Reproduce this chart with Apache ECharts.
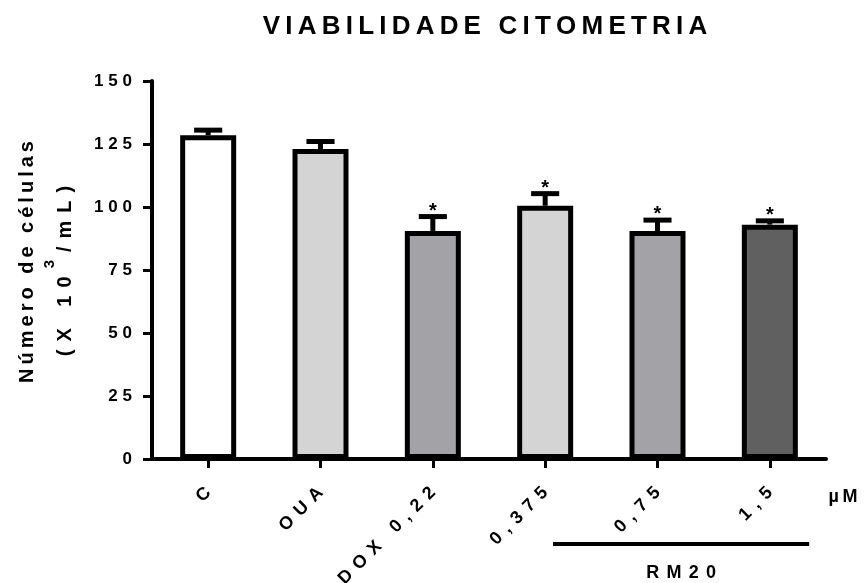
<!DOCTYPE html>
<html>
<head>
<meta charset="utf-8">
<script src="https://cdn.jsdelivr.net/npm/echarts@6/dist/echarts.min.js"></script>
<style>
html,body{margin:0;padding:0;background:#fff;}
#chart{width:867px;height:583px;}
</style>
</head>
<body>
<div id="chart"></div>
<script>
// ---- data ----
const categories = ['C', 'OUA', 'DOX 0,22', '0,375', '0,75', '1,5'];
const means = [128.5, 123, 90.5, 100.5, 90.5, 93];
const errors = [2, 3, 5.7, 4.8, 4.3, 1.5];
const significant = [false, false, true, true, true, true];
const barColors = ['#ffffff', '#d4d4d4', '#a3a2a7', '#d4d4d4', '#a3a2a7', '#606060'];
const titleText = 'VIABILIDADE CITOMETRIA';
const yNameLine1 = 'Número de células';
const yNameLine2a = '(X 10';
const yNameSup = '3';
const yNameLine2b = '/mL)';
const unitText = 'µM';
const groupText = 'RM20';
const groupStart = '0,375', groupEnd = '1,5';

const FONT = '"Liberation Sans", Arial, Helvetica, sans-serif';
const EN = '\u2002', THIN = '\u2009', HAIR = '\u200A';
function spaced(s, sp) { return Array.from(s).join(sp); }

const mctx = document.createElement('canvas').getContext('2d');
function measure(t, size) { mctx.font = 'bold ' + size + 'px ' + FONT; return mctx.measureText(t).width; }

const chart = echarts.init(document.getElementById('chart'), null, {renderer: 'canvas'});

const errData = categories.map((c, i) => [i, means[i], errors[i], significant[i] ? 1 : 0]);

const option = {
  animation: false,
  backgroundColor: '#ffffff',
  grid: {left: 152, right: 41, top: 81, bottom: 124, containLabel: false, outerBoundsMode: 'none'},
  xAxis: {
    type: 'category',
    data: categories,
    axisLine: {show: true, lineStyle: {color: '#000', width: 4}},
    axisTick: {show: true, alignWithLabel: true, length: 9, lineStyle: {color: '#000', width: 3}},
    axisLabel: {
      rotate: 45, margin: 31, interval: 0,
      color: '#000', fontSize: 18, fontWeight: 'bold', fontFamily: FONT,
      formatter: v => spaced(v, THIN + THIN)
    },
    splitLine: {show: false}
  },
  yAxis: {
    type: 'value', min: 0, max: 150, interval: 25,
    axisLine: {show: true, lineStyle: {color: '#000', width: 4}},
    axisTick: {show: true, length: 9, lineStyle: {color: '#000', width: 3}},
    axisLabel: {
      margin: 20, color: '#000', fontSize: 17, fontWeight: 'bold', fontFamily: FONT,
      formatter: v => spaced(String(v), THIN + HAIR)
    },
    splitLine: {show: false}
  },
  series: [
    {
      type: 'bar',
      barWidth: 56,
      data: means.map((m, i) => ({value: m, itemStyle: {color: barColors[i]}})),
      itemStyle: {borderColor: '#000', borderWidth: 5},
      z: 2
    },
    {
      type: 'custom',
      data: errData,
      encode: {x: 0, y: 1},
      z: 5,
      renderItem: function (params, api) {
        const i = api.value(0), m = api.value(1), e = api.value(2), s = api.value(3);
        const base = api.coord([i, m]);
        const top = api.coord([i, m + e]);
        const half = api.size([1, 0])[0] * 0.125;
        const children = [
          {type: 'line', shape: {x1: base[0], y1: base[1], x2: top[0], y2: top[1]},
           style: {stroke: '#000', lineWidth: 5}},
          {type: 'line', shape: {x1: top[0] - half, y1: top[1], x2: top[0] + half, y2: top[1]},
           style: {stroke: '#000', lineWidth: 5}}
        ];
        if (s) {
          children.push({type: 'text', x: top[0], y: top[1] - 5.5,
            style: {text: '*', align: 'center', verticalAlign: 'middle', fill: '#000',
                    fontSize: 20, fontWeight: 'bold', fontFamily: FONT}});
        }
        return {type: 'group', children: children};
      }
    }
  ]
};
chart.setOption(option);

// annotations (text) and RM20 bracket computed from the axis
const bandW = chart.convertToPixel({xAxisIndex: 0}, 1) - chart.convertToPixel({xAxisIndex: 0}, 0);
const gx1 = chart.convertToPixel({xAxisIndex: 0}, groupStart) + bandW * 0.07;
const gx2 = chart.convertToPixel({xAxisIndex: 0}, groupEnd) + bandW * 0.35;
const lineY = chart.convertToPixel({yAxisIndex: 0}, 0) + 85;

const SP2 = THIN + THIN;
const l2a = spaced(yNameLine2a, SP2) + SP2;
const l2b = SP2 + spaced(yNameLine2b, SP2);
const wa = measure(l2a, 20), ws = measure(yNameSup, 15), wb = measure(l2b, 20);
const W = wa + ws + wb;
const txt = (size) => ({fill: '#000', fontSize: size, fontWeight: 'bold', fontFamily: FONT});

chart.setOption({
  graphic: [
    {type: 'text', x: 485, y: 27,
     style: Object.assign(txt(26), {text: spaced(titleText, THIN), align: 'center', verticalAlign: 'middle'})},
    {type: 'text', x: 27, y: 262, rotation: Math.PI / 2,
     style: Object.assign(txt(20), {text: spaced(yNameLine1, THIN), align: 'center', verticalAlign: 'middle'})},
    {type: 'group', x: 65, y: 271, rotation: Math.PI / 2, children: [
      {type: 'text', x: -W / 2, y: 0,
       style: Object.assign(txt(20), {text: l2a, align: 'left', verticalAlign: 'middle'})},
      {type: 'text', x: -W / 2 + wa, y: -15,
       style: Object.assign(txt(15), {text: yNameSup, align: 'left', verticalAlign: 'middle'})},
      {type: 'text', x: -W / 2 + wa + ws, y: 0,
       style: Object.assign(txt(20), {text: l2b, align: 'left', verticalAlign: 'middle'})}
    ]},
    {type: 'text', x: 843, y: 497,
     style: Object.assign(txt(18), {text: spaced(unitText, THIN), align: 'center', verticalAlign: 'middle'})},
    {type: 'line', shape: {x1: gx1, y1: lineY, x2: gx2, y2: lineY}, style: {stroke: '#000', lineWidth: 4}},
    {type: 'text', x: (gx1 + gx2) / 2, y: lineY + 29,
     style: Object.assign(txt(18), {text: spaced(groupText, THIN + THIN), align: 'center', verticalAlign: 'middle'})}
  ]
});
</script>
</body>
</html>
